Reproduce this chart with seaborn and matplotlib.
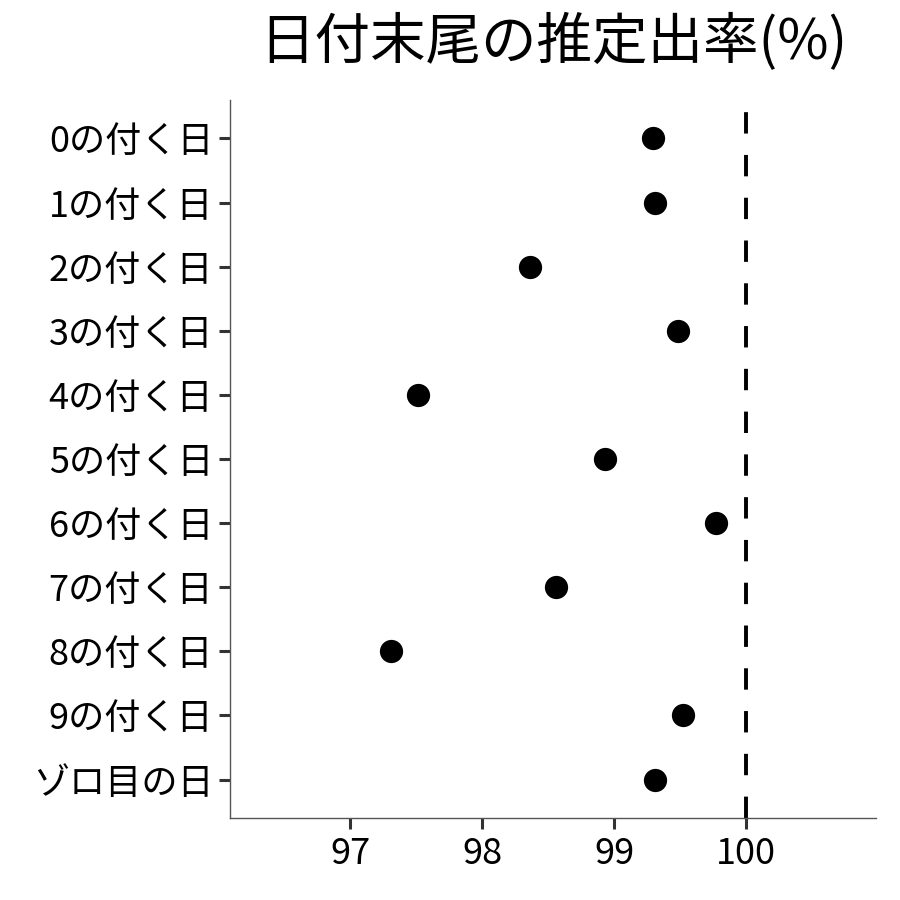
import matplotlib
matplotlib.use("Agg")
import matplotlib.pyplot as plt
import seaborn as sns
import pandas as pd

categories = ["0の付く日", "1の付く日", "2の付く日", "3の付く日", "4の付く日",
              "5の付く日", "6の付く日", "7の付く日", "8の付く日", "9の付く日", "ゾロ目の日"]
rates = [99.29, 99.31, 98.36, 99.48, 97.51, 98.93, 99.77, 98.56, 97.31, 99.52, 99.31]
xticks = [97, 98, 99, 100]
title = "日付末尾の推定出率(%)"

sns.set_style("white")
plt.rcParams['font.family'] = ['Noto Sans CJK JP', 'DejaVu Sans']
plt.rcParams['text.color'] = 'black'

df = pd.DataFrame({"cat": categories, "rate": rates})

fig = plt.figure(figsize=(9, 9), dpi=100)
ax = fig.add_axes([0.2556, 0.0911, 0.7174, 0.7978])

ax.axvline(100, color="black", lw=2.8, ls=(0, (5.5, 5.5)), zorder=1)
sns.scatterplot(data=df, x="rate", y="cat", ax=ax, color="black", s=280,
                edgecolor="black", linewidth=0, zorder=3)

ax.set_xlim(96.09, 100.98)
ax.set_ylim(len(categories) - 0.4, -0.6)
ax.set_xticks(xticks)
ax.set_xticklabels([str(t) for t in xticks])
ax.set_xlabel("")
ax.set_ylabel("")

for s in ["top", "right"]:
    ax.spines[s].set_visible(False)
for s in ["left", "bottom"]:
    ax.spines[s].set_color("#555555")
    ax.spines[s].set_linewidth(1.0)

ax.tick_params(axis="both", which="major", length=8, width=2.2, color="#333333",
               labelsize=26, labelcolor="black", pad=4, direction="out")
ax.tick_params(axis="x", pad=5)
ax.tick_params(left=True, bottom=True)

fig.suptitle(title, fontsize=40, x=0.615, y=0.985, va="top", color="black")

fig.savefig("out.png", dpi=100, facecolor="white")
